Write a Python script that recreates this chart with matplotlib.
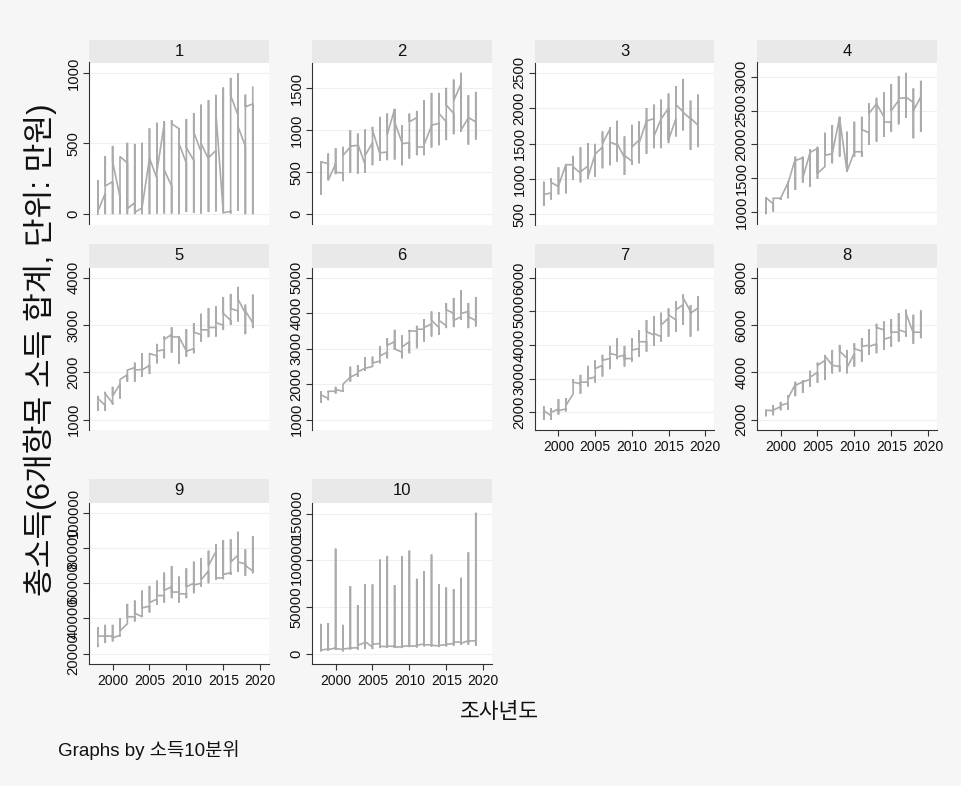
import matplotlib
matplotlib.use("Agg")
import matplotlib.pyplot as plt
from matplotlib.ticker import FixedLocator, FixedFormatter

plt.rcParams['font.family'] = ['Liberation Sans', 'Noto Sans CJK KR']

years = list(range(1998, 2020))
x_ticks = [2000, 2005, 2010, 2015, 2020]

# Per decile and year: highest and lowest value, and the first / last
# observation of the year (the line runs through them in data order).
top_1 = [242, 412, 483, 408, 505, 497, 505, 607, 647, 659, 664, 607, 673, 716, 775, 806, 844, 896, 964, 995, 846, 898]
bottom_1 = [0, 0, 0, 0, 0, 0, 0, 0, 5, 5, 5, 0, 15, 10, 5, 15, 20, 10, 5, 25, 0, 0]
first_1 = [0, 147, 230, 120, 362, 80, 45, 396, 254, 640, 199, 605, 360, 380, 440, 390, 450, 10, 20, 700, 480, 780]
last_1 = [20, 200, 372, 408, 40, 12, 50, 396, 300, 313, 640, 500, 470, 580, 500, 400, 720, 10, 840, 620, 760, 898]

top_2 = [631, 722, 786, 802, 1000, 960, 1008, 1040, 1159, 1198, 1254, 1060, 1198, 1230, 1357, 1444, 1444, 1504, 1603, 1683, 1417, 1456]
bottom_2 = [234, 405, 476, 393, 492, 484, 492, 583, 635, 643, 651, 583, 663, 702, 702, 794, 821, 881, 952, 980, 829, 889]
first_2 = [620, 603, 600, 490, 800, 820, 590, 850, 720, 740, 1250, 850, 850, 1150, 800, 1050, 1080, 1100, 1200, 1550, 1150, 1100]
last_2 = [623, 405, 500, 700, 810, 840, 700, 1000, 730, 950, 1100, 840, 1100, 800, 830, 1060, 1200, 1300, 1350, 1000, 1150, 1080]

top_3 = [960, 1007, 1163, 1201, 1325, 1448, 1505, 1495, 1670, 1732, 1822, 1600, 1765, 1813, 2002, 2050, 2121, 2206, 2310, 2414, 2107, 2192]
bottom_3 = [618, 708, 780, 794, 983, 950, 998, 1031, 1149, 1192, 1244, 1055, 1197, 1220, 1353, 1434, 1434, 1505, 1600, 1685, 1410, 1448]
first_3 = [780, 800, 890, 1200, 1200, 1080, 1180, 1350, 1450, 1700, 1480, 1300, 1250, 1550, 1820, 1850, 1850, 2000, 1850, 1950, 1850, 1760]
last_3 = [780, 950, 900, 1200, 1170, 1100, 1020, 1350, 1500, 1520, 1500, 1330, 1450, 1510, 1820, 1600, 1850, 1550, 2050, 1940, 1860, 1750]

top_4 = [1212, 1202, 1202, 1448, 1818, 1818, 1926, 1965, 2172, 2286, 2409, 2187, 2335, 2409, 2606, 2690, 2768, 2892, 3010, 3059, 2828, 2941]
bottom_4 = [966, 1005, 1177, 1202, 1325, 1433, 1374, 1488, 1695, 1719, 1818, 1596, 1818, 1818, 1990, 2039, 2113, 2187, 2296, 2394, 2089, 2187]
first_4 = [1200, 1120, 1202, 1430, 1790, 1800, 1880, 1940, 1670, 1860, 2400, 1600, 1890, 1890, 2170, 2600, 2410, 2330, 2650, 2690, 2620, 2700]
last_4 = [1210, 1202, 1202, 1420, 1760, 1500, 1880, 1570, 1840, 1860, 2380, 1600, 1890, 2220, 2460, 2600, 2330, 2500, 2680, 2700, 2500, 2700]

top_5 = [1503, 1589, 1695, 1851, 2050, 2206, 2404, 2390, 2603, 2759, 2957, 2723, 2915, 3043, 3241, 3362, 3397, 3596, 3660, 3809, 3433, 3645]
bottom_5 = [1184, 1184, 1319, 1447, 1801, 1801, 1908, 1965, 2191, 2298, 2418, 2177, 2333, 2404, 2652, 2745, 2759, 2901, 3007, 3078, 2809, 2936]
first_5 = [1350, 1300, 1350, 1750, 1950, 2100, 2060, 2150, 2350, 2480, 2800, 2750, 2450, 2500, 2800, 2900, 2950, 3000, 3100, 3300, 3250, 3050]
last_5 = [1450, 1550, 1500, 1850, 2050, 2050, 2050, 2400, 2450, 2700, 2750, 2750, 2450, 2850, 2900, 2950, 3050, 3250, 3350, 3550, 3300, 3000]

top_6 = [1804, 1813, 1927, 1993, 2494, 2541, 2759, 2778, 3080, 3298, 3534, 3374, 3534, 3648, 3837, 4054, 4026, 4291, 4433, 4650, 4291, 4461]
bottom_6 = [1473, 1548, 1738, 1785, 2069, 2210, 2381, 2494, 2589, 2730, 2967, 2730, 2872, 3014, 3203, 3345, 3392, 3582, 3610, 3818, 3582, 3629]
first_6 = [1650, 1600, 1800, 1800, 2200, 2300, 2450, 2500, 2650, 2900, 3200, 2900, 3200, 3500, 3550, 3700, 3600, 3650, 4000, 3900, 4050, 3800]
last_6 = [1700, 1800, 1850, 2000, 2200, 2350, 2450, 2600, 2800, 3100, 3000, 3050, 3500, 3550, 3600, 3800, 3800, 4100, 3800, 4000, 3900, 3700]

top_7 = [2178, 2128, 2395, 2425, 2988, 3116, 3383, 3541, 3709, 3975, 4202, 3975, 4202, 4449, 4746, 4864, 4963, 5091, 5309, 5506, 5190, 5457]
bottom_7 = [1783, 1783, 1931, 2030, 2553, 2553, 2770, 2889, 3067, 3284, 3580, 3363, 3511, 3659, 3807, 3975, 4104, 4252, 4400, 4598, 4252, 4430]
first_7 = [2000, 1900, 2100, 2100, 2550, 2850, 2900, 3050, 3400, 3600, 3700, 3700, 3600, 3900, 4100, 4300, 4250, 4800, 4750, 5200, 5000, 5100]
last_7 = [2050, 2000, 2050, 2200, 2900, 2900, 3000, 3300, 3550, 3750, 3650, 3600, 3850, 4100, 4400, 4350, 4600, 4900, 5050, 5400, 4950, 5150]

top_8 = [2397, 2610, 2752, 3035, 3603, 3674, 4071, 4411, 4738, 4950, 5163, 4950, 5234, 5447, 5830, 6057, 6156, 6255, 6511, 6652, 6440, 6624]
bottom_8 = [2142, 2184, 2397, 2426, 2993, 3135, 3390, 3560, 3674, 3957, 4028, 3957, 4241, 4454, 4738, 4809, 4950, 5092, 5305, 5518, 5206, 5447]
first_8 = [2350, 2380, 2550, 2700, 3500, 3600, 3700, 4000, 4500, 4300, 4250, 4600, 4800, 4900, 5150, 5200, 5800, 5500, 5700, 5700, 5650, 5700]
last_8 = [2400, 2400, 2600, 2900, 3450, 3600, 3800, 4300, 4700, 4300, 4900, 4200, 5000, 5100, 5100, 5900, 5400, 5700, 5800, 6500, 5700, 5800]

top_9 = [35094, 36415, 36415, 40189, 48302, 50189, 55849, 58491, 61509, 66038, 69811, 63774, 68491, 72264, 74151, 78491, 82264, 84528, 84906, 89245, 79245, 86792]
bottom_9 = [23774, 26038, 26981, 29811, 37358, 38302, 41132, 43396, 47736, 49057, 51509, 49057, 51509, 54340, 58113, 60000, 61887, 62264, 64717, 66604, 64151, 65660]
first_9 = [25000, 30000, 30000, 30500, 37000, 41000, 41000, 47000, 51000, 53000, 58000, 55000, 54000, 60000, 60000, 67000, 78000, 63000, 66000, 76000, 71000, 67000]
last_9 = [30000, 30000, 29000, 33000, 41000, 43000, 46000, 49000, 53000, 56000, 55000, 54000, 58000, 59000, 62000, 70000, 63000, 65000, 72000, 72000, 70000, 67000]

top_10 = [31991, 32701, 112678, 30924, 72512, 52251, 74289, 74289, 100948, 104858, 73578, 104502, 110545, 80332, 88507, 106280, 74289, 71090, 69313, 81398, 108768, 151066]
bottom_10 = [2488, 3199, 4265, 2488, 4265, 4265, 4976, 4976, 6043, 6754, 6043, 6043, 7109, 6754, 7820, 7820, 7109, 7820, 8531, 9597, 9597, 8531]
first_10 = [3000, 5000, 6000, 4500, 6000, 6500, 12000, 7000, 11000, 7500, 8000, 7500, 8500, 8500, 10500, 9500, 8500, 9500, 11000, 12500, 14000, 14000]
last_10 = [4000, 4500, 5500, 5000, 6000, 9000, 13000, 10000, 8000, 8000, 7000, 8000, 8000, 9000, 9500, 9000, 9000, 10000, 12500, 11000, 13500, 14500]

y_ticks = {
    1: [0, 500, 1000],
    2: [0, 500, 1000, 1500],
    3: [500, 1000, 1500, 2000, 2500],
    4: [1000, 1500, 2000, 2500, 3000],
    5: [1000, 2000, 3000, 4000],
    6: [1000, 2000, 3000, 4000, 5000],
    7: [2000, 3000, 4000, 5000, 6000],
    8: [2000, 4000, 6000, 8000],
    9: [20000, 40000, 60000, 80000, 100000],
    10: [0, 50000, 100000, 150000],
}

series = {
    1: (top_1, bottom_1, first_1, last_1),
    2: (top_2, bottom_2, first_2, last_2),
    3: (top_3, bottom_3, first_3, last_3),
    4: (top_4, bottom_4, first_4, last_4),
    5: (top_5, bottom_5, first_5, last_5),
    6: (top_6, bottom_6, first_6, last_6),
    7: (top_7, bottom_7, first_7, last_7),
    8: (top_8, bottom_8, first_8, last_8),
    9: (top_9, bottom_9, first_9, last_9),
    10: (top_10, bottom_10, first_10, last_10),
}

W, H = 962, 786
BG = '#f6f6f6'
STRIP = '#e9e9e9'
LINE = '#ababab'
fig = plt.figure(figsize=(W / 100, H / 100), dpi=100, facecolor=BG)

# panel geometry in pixels: columns (left, right); rows (strip top, plot top, plot bottom)
cols = [(89, 269), (312, 492), (535, 714), (757, 937)]
rows = [(39.5, 62.5, 224.5), (244, 267.5, 430), (479, 502.5, 664)]


def box(x0, x1, y0, y1):
    return [x0 / W, 1 - y1 / H, (x1 - x0) / W, (y1 - y0) / H]


for k in range(1, 11):
    r, c = divmod(k - 1, 4)
    x0, x1 = cols[c]
    ys, yt, yb = rows[r]
    has_xaxis = (k + 4) > 10

    strip = fig.add_axes(box(x0, x1, ys, yt))
    strip.set_facecolor(STRIP)
    strip.set_xticks([])
    strip.set_yticks([])
    for s in strip.spines.values():
        s.set_visible(False)
    strip.text(0.5, 0.5, str(k), ha='center', va='center', fontsize=12,
               transform=strip.transAxes, color='#111111')

    ax = fig.add_axes(box(x0, x1, yt, yb))
    ax.set_facecolor('white')
    top, bottom, first, last = series[k]
    xs, vals = [], []
    for yr, a, lo, hi, b in zip(years, first, bottom, top, last):
        xs += [yr, yr, yr, yr]
        vals += [a, lo, hi, b]
    ax.plot(xs, vals, color=LINE, lw=1.2, solid_joinstyle='miter')

    ticks = y_ticks[k]
    lo_v = min(ticks[0], min(bottom))
    hi_v = max(ticks[-1], max(top))
    pad = 0.073 * (hi_v - lo_v)
    ax.set_ylim(lo_v - pad, hi_v + pad)
    ax.set_xlim(1996.8, 2021.2)

    ax.yaxis.set_major_locator(FixedLocator(ticks))
    ax.yaxis.set_major_formatter(FixedFormatter([str(t) for t in ticks]))
    ax.yaxis.grid(True, color='#efefef', lw=0.8)
    ax.set_axisbelow(True)
    ax.tick_params(axis='y', length=4, width=0.8, pad=2, labelsize=10.6,
                   labelrotation=90, colors='#333333', labelcolor='#111111')
    for lab in ax.get_yticklabels():
        lab.set_va('center')

    for side in ('top', 'right'):
        ax.spines[side].set_visible(False)
    ax.spines['left'].set_color('#333333')
    ax.spines['left'].set_linewidth(0.8)

    ax.xaxis.set_major_locator(FixedLocator(x_ticks))
    if has_xaxis:
        ax.spines['bottom'].set_color('#333333')
        ax.spines['bottom'].set_linewidth(0.8)
        ax.tick_params(axis='x', length=4, width=0.8, pad=3, labelsize=10,
                       colors='#333333', labelcolor='#111111')
    else:
        ax.spines['bottom'].set_visible(False)
        ax.tick_params(axis='x', length=0, labelbottom=False)

fig.text(40 / W, 1 - 350 / H, '총소득(6개항목 소득 합계, 단위: 만원)', rotation=90,
         ha='center', va='center', fontsize=22.5, color='#111111')
fig.text(499 / W, 1 - 713 / H, '조사년도', ha='center', va='center',
         fontsize=15.5, color='#111111')
fig.text(58 / W, 1 - 750 / H, 'Graphs by 소득10분위', ha='left', va='center',
         fontsize=13.5, color='#111111')

fig.savefig('out.png', dpi=100, facecolor=BG)
